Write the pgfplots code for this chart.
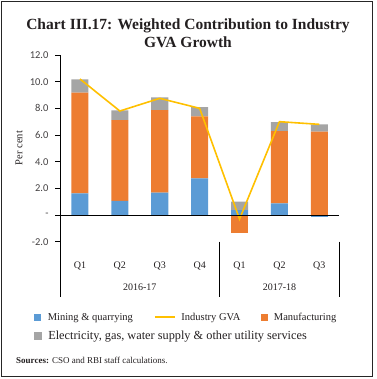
\documentclass[border=0pt]{standalone}
\usepackage{pgfplots}
\pgfplotsset{compat=1.18}
\usepackage{fontspec}
\setmainfont{Liberation Serif}
\newfontfamily\carlito{Carlito}
\definecolor{mblue}{HTML}{5B9BD5}
\definecolor{morange}{HTML}{ED7D31}
\definecolor{mgray}{HTML}{A5A5A5}
\definecolor{mgold}{HTML}{FFC000}
\definecolor{txt}{HTML}{231F20}
\pgfplotsset{
 sqlegend/.style={legend image code/.code={\fill[##1] (0pt,-3.5pt) rectangle (7pt,3.5pt);}},
 bigsqlegend/.style={legend image code/.code={\fill[##1] (0pt,-4pt) rectangle (8pt,4pt);}},
 lnlegend/.style={legend image code/.code={\draw[##1] (0pt,0pt) -- (20pt,0pt);}},
 common/.style={
  at={(60pt,-241.7pt)}, anchor=south west,
  scale only axis, width=279.3pt, height=186.7pt,
  xmin=-0.5, xmax=6.5, ymin=-2, ymax=12,
 },
}
\begin{document}
\begin{tikzpicture}
\useasboundingbox (0,0) rectangle (376pt,-379pt);
\draw[line width=1pt, black!85] (1.5pt,-2pt) rectangle (372.5pt,-376.5pt);
\node[anchor=base, font=\fontsize{15.5}{18}\selectfont\bfseries, text=txt] at (188pt,-30pt) {Chart III.17: Weighted Contribution to Industry};
\node[anchor=base, font=\fontsize{15.5}{18}\selectfont\bfseries, text=txt] at (188pt,-48pt) {GVA Growth};
\node[rotate=90, font=\fontsize{10.5}{12}\selectfont, text=txt] at (19pt,-148pt) {Per cent};
\node[anchor=base west, font=\fontsize{9}{11}\selectfont, text=txt, inner sep=0pt] at (16pt,-363.3pt) {\textbf{Sources:} CSO and RBI staff calculations.};

\begin{axis}[common,
  ybar stacked, bar width=17pt,
  axis lines*=left, axis line style={-, black, line width=0.8pt}, x axis line style={draw=none},
  ytick={-2,0,...,12}, yticklabels={-2.0,{-\hspace{7pt}},2.0,4.0,6.0,8.0,10.0,12.0},
  xtick={0,...,6}, xticklabels={Q1,Q2,Q3,Q4,Q1,Q2,Q3},
  xtick style={draw=none}, ytick style={black, line width=0.6pt},
  tick align=outside, major tick length=5pt,
  xticklabel style={font=\fontsize{10}{12}\selectfont, text=txt, yshift=-11.5pt},
  yticklabel style={font=\carlito\fontsize{10.5}{12}\selectfont, text=txt!85, xshift=-3pt},
  legend columns=3, legend cell align=left,
  legend style={at={(axis description cs:-0.092,-0.381)}, anchor=north west,
    draw=none, fill=none, inner sep=0pt, outer sep=0pt,
    nodes={inner sep=0pt},
    font=\fontsize{10.5}{12}\selectfont, text=txt, row sep=9pt,
    /tikz/every odd column/.append style={column sep=5.5pt},
    /tikz/every even column/.append style={column sep=21pt}},
]
\addplot[fill=mblue, draw=none, forget plot] coordinates {(0,1.62) (1,1.07) (2,1.68) (3,2.75) (4,0.37) (5,0.87) (6,0)};
\addplot[fill=morange, draw=none, forget plot] coordinates {(0,7.55) (1,6.04) (2,6.18) (3,4.64) (4,0) (5,5.42) (6,6.26)};
\addplot[fill=mgray, draw=none, forget plot] coordinates {(0,1.00) (1,0.73) (2,0.96) (3,0.70) (4,0.63) (5,0.67) (6,0.53)};
\addlegendimage{sqlegend, fill=mblue, draw=none}
\addlegendentry{Mining \& quarrying}
\addlegendimage{lnlegend, mgold, line width=2pt}
\addlegendentry{Industry GVA}
\addlegendimage{sqlegend, fill=morange, draw=none}
\addlegendentry{Manufacturing}
\addlegendimage{bigsqlegend, fill=mgray, draw=none}
\addlegendentry{\makebox[0pt][l]{\fontsize{12.3}{14}\selectfont Electricity, gas, water supply \& other utility services}}
\end{axis}

\begin{axis}[common, hide axis, clip=false]
\addplot[ybar, bar width=17pt, bar shift=0pt, fill=mblue, draw=none] coordinates {(6,-0.13)};
\addplot[ybar, bar width=17pt, bar shift=0pt, fill=morange, draw=none] coordinates {(4,-1.31)};
\addplot[mgold, line width=1.6pt, mark=none] coordinates {(0,10.2) (1,7.8) (2,8.75) (3,8.0) (4,-0.3) (5,7.0) (6,6.8)};
\draw[black, line width=0.8pt] (axis cs:-0.5,0) -- (axis cs:6.5,0);
\draw[black, line width=0.8pt] (axis cs:-0.5,-2) -- ([yshift=-55pt]axis cs:-0.5,-2);
\draw[black, line width=0.8pt] (axis cs:3.5,-2) -- ([yshift=-55pt]axis cs:3.5,-2);
\draw[black, line width=0.8pt] (axis cs:6.5,-2) -- ([yshift=-55pt]axis cs:6.5,-2);
\node[font=\fontsize{10}{12}\selectfont, text=txt] at ([yshift=-45.5pt]axis cs:1.5,-2) {2016-17};
\node[font=\fontsize{10}{12}\selectfont, text=txt] at ([yshift=-45.5pt]axis cs:5,-2) {2017-18};
\end{axis}
\end{tikzpicture}
\end{document}
